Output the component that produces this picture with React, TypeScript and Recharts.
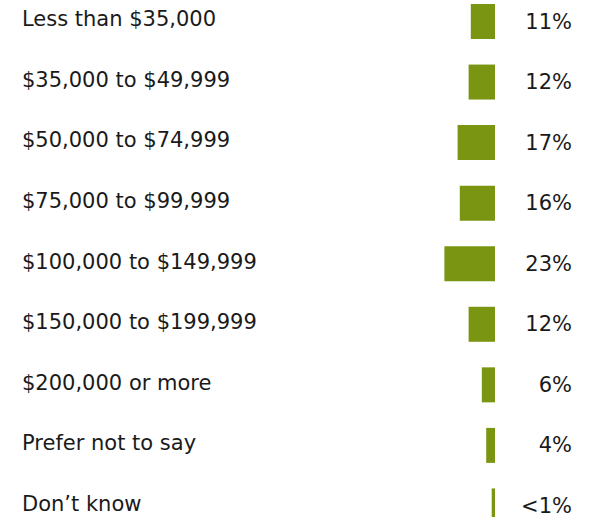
import { BarChart, Bar, XAxis, YAxis, LabelList } from "recharts";

const categories = [
  "Less than $35,000",
  "$35,000 to $49,999",
  "$50,000 to $74,999",
  "$75,000 to $99,999",
  "$100,000 to $149,999",
  "$150,000 to $199,999",
  "$200,000 or more",
  "Prefer not to say",
  "Don\u2019t know",
];

const shares = [11, 12, 17, 16, 23, 12, 6, 4, 1.5];

const shareLabels = ["11%", "12%", "17%", "16%", "23%", "12%", "6%", "4%", "<1%"];

const data = categories.map((name, i) => ({
  name,
  value: shares[i],
  label: shareLabels[i],
}));

const FONT = "'DejaVu Sans', sans-serif";
const BAR_COLOR = "#7a9512";

function CategoryTick(props: any) {
  const { y, payload } = props;
  return (
    <text
      x={22}
      y={y}
      dy={-2}
      textAnchor="start"
      dominantBaseline="central"
      fontFamily={FONT}
      fontSize={21}
      fill="#1a1a1a"
    >
      {payload.value}
    </text>
  );
}

function ValueLabel(props: any) {
  const { x, y, width, height, value } = props;
  // bar's right edge (axis is reversed, so width may be negative)
  const right = Math.max(x, x + width);
  return (
    <text
      x={right + 77}
      y={y + height / 2}
      textAnchor="end"
      dominantBaseline="central"
      fontFamily={FONT}
      fontSize={21}
      fill="#1a1a1a"
    >
      {value}
    </text>
  );
}

export default function App() {
  return (
    <div style={{ position: "absolute", left: 0, top: -9, width: 592, height: 545 }}>
      <BarChart
        width={592}
        height={545}
        data={data}
        layout="vertical"
        margin={{ top: 0, right: 97, bottom: 0, left: 0 }}
      >
        <XAxis type="number" domain={[0, 215]} reversed hide />
        <YAxis
          type="category"
          dataKey="name"
          width={22}
          axisLine={false}
          tickLine={false}
          tick={<CategoryTick />}
          interval={0}
        />
        <Bar dataKey="value" fill={BAR_COLOR} barSize={35} isAnimationActive={false}>
          <LabelList dataKey="label" content={<ValueLabel />} />
        </Bar>
      </BarChart>
    </div>
  );
}
